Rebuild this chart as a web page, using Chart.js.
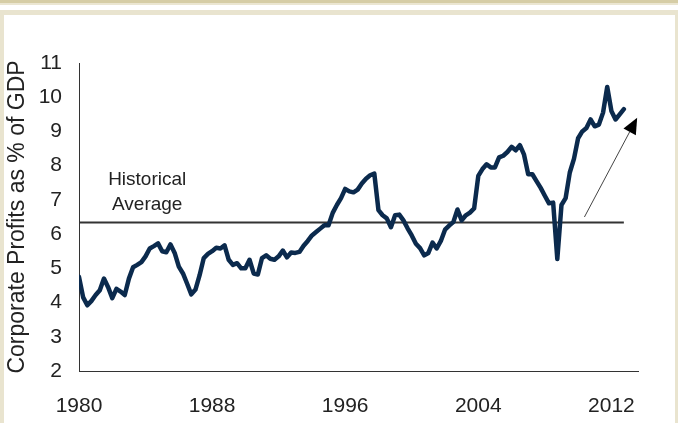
<!DOCTYPE html>
<html>
<head>
<meta charset="utf-8">
<script src="https://cdn.jsdelivr.net/npm/chart.js@4.4.0/dist/chart.umd.min.js"></script>
<style>
html, body { margin:0; padding:0; background:#fff; }
#wrap { position:relative; width:678px; height:423px; overflow:hidden; background:#fff; }
#band1 { position:absolute; left:0; top:0; width:678px; height:3px; background:#d6cda6; }
#band2 { position:absolute; left:0; top:3px; width:678px; height:2px; background:#ebe6d2; }
#panel { position:absolute; left:0; top:10px; width:671px; height:420px; border:4px solid #e9e4cf; border-top-width:5px; border-right-width:3px; border-bottom:none; background:#fff; }
#chart { position:absolute; left:0; top:0; }
</style>
</head>
<body>
<div id="wrap">
  <div id="band1"></div>
  <div id="band2"></div>
  <div id="panel"></div>
  <canvas id="chart" width="678" height="423"></canvas>
</div>
<script>
// quarterly, 1980Q1 .. 2012Q4
var startYear = 1980;
var profits = [
    4.75, 4.15, 3.92, 4.05, 4.22, 4.36, 4.70, 4.45, 4.13, 4.40, 4.32, 4.22,
    4.70, 5.03, 5.10, 5.18, 5.35, 5.58, 5.65, 5.73, 5.50, 5.47, 5.70, 5.45,
    5.05, 4.85, 4.55, 4.24, 4.38, 4.80, 5.30, 5.42, 5.50, 5.60, 5.58, 5.67,
    5.25, 5.10, 5.15, 5.00, 5.00, 5.25, 4.85, 4.82, 5.30, 5.38, 5.28, 5.25,
    5.35, 5.52, 5.32, 5.46, 5.45, 5.48, 5.66, 5.80, 5.96, 6.06, 6.16, 6.26,
    6.26, 6.62, 6.85, 7.05, 7.32, 7.25, 7.22, 7.30, 7.48, 7.62, 7.72, 7.77,
    6.70, 6.55, 6.46, 6.20, 6.55, 6.57, 6.40, 6.17, 5.96, 5.72, 5.59, 5.38,
    5.45, 5.75, 5.58, 5.80, 6.13, 6.25, 6.35, 6.72, 6.40, 6.55, 6.63, 6.75,
    7.70, 7.90, 8.04, 7.95, 7.95, 8.24, 8.29, 8.40, 8.55, 8.45, 8.60, 8.32,
    7.75, 7.75, 7.55, 7.35, 7.12, 6.90, 6.92, 5.27, 6.85, 7.05, 7.80, 8.20,
    8.80, 9.00, 9.10, 9.35, 9.15, 9.20, 9.55, 10.30, 9.60, 9.35, 9.50, 9.65
];
var historicalAverage = 6.34;
var averageSpan = [1980, 2012.75];
var tickYears = [1980, 1988, 1996, 2004, 2012];
var yTitle = "Corporate Profits as % of GDP";
var averageLabel = ["Historical", "Average"];
var averageLabelAt = [1984.1, 7.58, 6.85];   // x year, y of each line
var arrowFrom = [2010.38, 6.5];
var arrowTo = [2013.55, 9.4];

var fontFam = '"Liberation Sans", Arial, sans-serif';

function getPoints(){
    var pts = [];
    for (var i = 0; i < profits.length; i++) {
        pts.push({x: startYear + i / 4, y: profits[i]});
    }
    return pts;
}

var notes = {
    id: 'notes',
    afterDatasetsDraw: function(chart){
        var ctx = chart.ctx;
        var sx = chart.scales.x, sy = chart.scales.y;
        ctx.save();
        ctx.fillStyle = '#222';
        ctx.font = '19px ' + fontFam;
        ctx.textAlign = 'center';
        ctx.textBaseline = 'middle';
        var lx = sx.getPixelForValue(averageLabelAt[0]);
        ctx.fillText(averageLabel[0], lx, sy.getPixelForValue(averageLabelAt[1]));
        ctx.fillText(averageLabel[1], lx, sy.getPixelForValue(averageLabelAt[2]));

        // arrow
        var x1 = sx.getPixelForValue(arrowFrom[0]), y1 = sy.getPixelForValue(arrowFrom[1]);
        var x2 = sx.getPixelForValue(arrowTo[0]), y2 = sy.getPixelForValue(arrowTo[1]);
        var dx = x2 - x1, dy = y2 - y1;
        var len = Math.sqrt(dx*dx + dy*dy);
        var ux = dx / len, uy = dy / len;
        var headLen = 16, headW = 7;
        var bx = x2 - ux * headLen, by = y2 - uy * headLen;
        ctx.strokeStyle = '#444';
        ctx.lineWidth = 1;
        ctx.beginPath();
        ctx.moveTo(x1, y1);
        ctx.lineTo(bx, by);
        ctx.stroke();
        ctx.fillStyle = '#000';
        ctx.beginPath();
        ctx.moveTo(x2, y2);
        ctx.lineTo(bx - uy * headW, by + ux * headW);
        ctx.lineTo(bx + uy * headW, by - ux * headW);
        ctx.closePath();
        ctx.fill();
        ctx.restore();
    }
};

var config = {
    type: 'line',
    data: {
        datasets: [{
            label: 'Corporate profits',
            data: getPoints(),
            borderColor: '#0b2a4d',
            borderWidth: 4.5,
            borderJoinStyle: 'round',
            borderCapStyle: 'round',
            pointRadius: 0,
            tension: 0,
            fill: false
        }, {
            label: 'Historical average',
            data: [{x: averageSpan[0], y: historicalAverage}, {x: averageSpan[1], y: historicalAverage}],
            borderColor: '#333',
            borderWidth: 2,
            pointRadius: 0,
            fill: false
        }]
    },
    options: {
        responsive: false,
        animation: false,
        layout: { padding: { top: 63, right: 40, left: 0, bottom: 0 } },
        plugins: { legend: { display: false }, tooltip: { enabled: false } },
        scales: {
            x: {
                type: 'linear',
                min: 1980,
                max: 2013.6,
                grid: { display: false, drawTicks: false },
                border: { display: true, color: '#333', width: 1 },
                afterBuildTicks: function(scale){
                    scale.ticks = tickYears.map(function(v){ return {value: v}; });
                },
                afterFit: function(scale){ scale.height = 52; },
                ticks: {
                    padding: 23,
                    color: '#222',
                    font: { family: fontFam, size: 21 },
                    maxRotation: 0,
                    callback: function(v){ return String(v); }
                }
            },
            y: {
                min: 2,
                max: 11,
                grid: { display: false, drawTicks: false },
                border: { display: true, color: '#333', width: 1 },
                afterFit: function(scale){ scale.width = 79; },
                ticks: {
                    stepSize: 1,
                    padding: 17,
                    color: '#222',
                    font: { family: fontFam, size: 21 },
                    callback: function(v){ return String(v); }
                },
                title: {
                    display: true,
                    text: yTitle,
                    color: '#222',
                    font: { family: fontFam, size: 23 },
                    padding: { top: 4, bottom: 0 }
                }
            }
        }
    },
    plugins: [notes]
};

var chartProfits = new Chart(document.getElementById('chart').getContext('2d'), config);
</script>
</body>
</html>
